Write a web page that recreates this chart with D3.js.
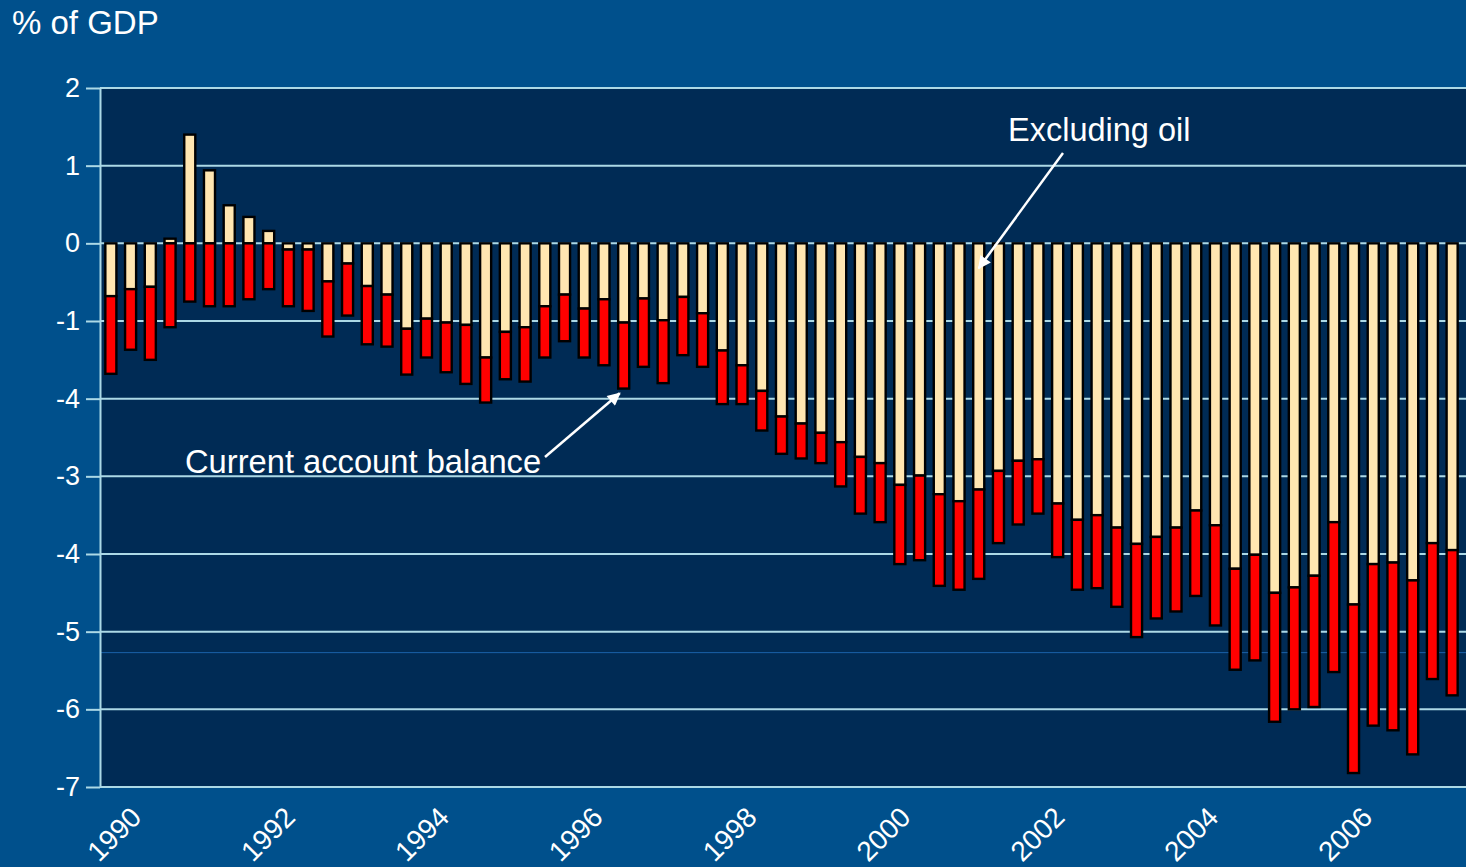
<!DOCTYPE html>
<html>
<head>
<meta charset="utf-8">
<script src="https://cdn.jsdelivr.net/npm/d3@7"></script>
<style>
    html, body { margin: 0; padding: 0; background: #00508c; }
    svg { display: block; }
    text { font-family: "Liberation Sans", Arial, sans-serif; fill: #fff; }
</style>
</head>
<body>
<svg id="chart" width="1466" height="867"></svg>
<script>
// quarterly, 1990Q1 - 2007Q1
const years = d3.range(1990, 2008)
const quarters = years.flatMap(y => [1, 2, 3, 4].map(q => `${y}Q${q}`)).slice(0, 69)

// cream part: balance excluding oil (% of GDP)
const excludingOil = [
    -0.68, -0.59, -0.56, 0.06, 1.40, 0.94, 0.49, 0.34, 0.16, -0.08, -0.08, -0.49,
    -0.26, -0.55, -0.66, -1.10, -0.97, -1.02, -1.05, -1.47, -1.14, -1.08, -0.81, -0.66,
    -0.84, -0.72, -1.02, -0.71, -0.99, -0.69, -0.90, -1.38, -1.57, -1.90, -2.23, -2.32,
    -2.44, -2.56, -2.75, -2.83, -3.11, -2.99, -3.23, -3.32, -3.17, -2.93, -2.80, -2.78,
    -3.35, -3.56, -3.50, -3.66, -3.87, -3.78, -3.66, -3.44, -3.63, -4.19, -4.01, -4.50,
    -4.43, -4.28, -3.59, -4.65, -4.13, -4.11, -4.34, -3.86, -3.95
]

// red part: oil balance, stacked below -> bottom is the current account balance
const oilBalance = [
    -1.00, -0.78, -0.94, -1.08, -0.75, -0.81, -0.81, -0.72, -0.59, -0.73, -0.79, -0.71,
    -0.67, -0.75, -0.67, -0.59, -0.50, -0.64, -0.76, -0.58, -0.61, -0.70, -0.66, -0.60,
    -0.63, -0.85, -0.85, -0.88, -0.81, -0.75, -0.69, -0.69, -0.50, -0.51, -0.48, -0.45,
    -0.39, -0.57, -0.73, -0.76, -1.02, -1.09, -1.18, -1.14, -1.15, -0.93, -0.82, -0.70,
    -0.69, -0.90, -0.94, -1.02, -1.20, -1.05, -1.08, -1.10, -1.29, -1.30, -1.36, -1.66,
    -1.57, -1.69, -1.93, -2.17, -2.08, -2.16, -2.24, -1.75, -1.87
]

const yTicks = [2, 1, 0, -1, -2, -3, -4, -5, -6, -7]
const yTickLabels = ['2', '1', '0', '-1', '-4', '-3', '-4', '-5', '-6', '-7']
const xLabelYears = [1990, 1992, 1994, 1996, 1998, 2000, 2002, 2004, 2006]

const width = 1466, height = 867
const plot = { left: 100, right: 1466, top: 88, bottom: 787 }

const colors = {
    plotBg: '#002b55',
    grid: '#acd9e6',
    cream: '#ffe6b1',
    red: '#ff0000',
    stray: '#1a62aa'
}

const svg = d3.select('#chart')

svg.append('rect')
    .attr('width', width).attr('height', height)
    .attr('fill', '#00508c')

svg.append('rect')
    .attr('x', plot.left).attr('y', plot.top)
    .attr('width', plot.right - plot.left).attr('height', plot.bottom - plot.top)
    .attr('fill', colors.plotBg)

const x = d3.scaleBand()
    .domain(quarters)
    .range([101, 1462])
    .paddingInner(0.44)
    .paddingOuter(0.22)

const y = d3.scaleLinear()
    .domain([-7, 2])
    .range([plot.bottom, plot.top])

// year labels sit on their own spacing in the original slide
const xLabel = d3.scaleLinear()
    .domain([1990, 2006])
    .range([114, 1345])

// gridlines
svg.append('g').attr('class', 'grid')
    .selectAll('line')
    .data(yTicks)
    .join('line')
    .attr('x1', plot.left).attr('x2', plot.right)
    .attr('y1', d => y(d)).attr('y2', d => y(d))
    .attr('stroke', colors.grid)
    .attr('stroke-width', 2)

// faint stray line from the source slide
svg.append('line')
    .attr('x1', plot.left).attr('x2', plot.right)
    .attr('y1', y(-5.27)).attr('y2', y(-5.27))
    .attr('stroke', colors.stray)
    .attr('stroke-width', 1)

// stacked bars
const table = quarters.map((q, i) => ({ quarter: q, exOil: excludingOil[i], oil: oilBalance[i] }))

const series = d3.stack()
    .keys(['exOil', 'oil'])
    .offset(d3.stackOffsetDiverging)(table)

const fill = { exOil: colors.cream, oil: colors.red }

svg.append('g').attr('class', 'bars')
    .selectAll('g')
    .data(series)
    .join('g')
    .attr('fill', d => fill[d.key])
    .selectAll('rect')
    .data(d => d)
    .join('rect')
    .attr('x', d => x(d.data.quarter))
    .attr('width', x.bandwidth())
    .attr('y', d => y(d[1]))
    .attr('height', d => y(d[0]) - y(d[1]))
    .attr('stroke', '#000')
    .attr('stroke-width', 2.4)

// y axis
const yAxis = svg.append('g')
    .attr('transform', `translate(${plot.left},0)`)
    .call(d3.axisLeft(y)
        .tickValues(yTicks)
        .tickFormat((d, i) => yTickLabels[i])
        .tickSize(14)
        .tickSizeOuter(0)
        .tickPadding(6))

yAxis.selectAll('path, line')
    .attr('stroke', colors.grid)
    .attr('stroke-width', 2)
yAxis.selectAll('text')
    .attr('fill', '#fff')
    .style('font-size', '27px')
    .style('font-family', '"Liberation Sans", Arial, sans-serif')

// x labels
svg.append('g').attr('class', 'xLabels')
    .selectAll('text')
    .data(xLabelYears)
    .join('text')
    .attr('transform', d => `translate(${xLabel(d)},834) rotate(-45)`)
    .attr('text-anchor', 'middle')
    .attr('dy', '0.35em')
    .style('font-size', '28px')
    .text(d => d)

// title
svg.append('text')
    .attr('x', 12).attr('y', 34)
    .style('font-size', '33px')
    .text('% of GDP')

// annotations
svg.append('defs').append('marker')
    .attr('id', 'arrow')
    .attr('viewBox', '0 0 10 10')
    .attr('refX', 9).attr('refY', 5)
    .attr('markerWidth', 16).attr('markerHeight', 13)
    .attr('markerUnits', 'userSpaceOnUse')
    .attr('orient', 'auto')
    .append('path')
    .attr('d', 'M0,0 L10,5 L0,10 Z')
    .attr('fill', '#fff')

const barCenter = q => x(q) + x.bandwidth() / 2

svg.append('text')
    .attr('x', 1008).attr('y', 141)
    .style('font-size', '32.5px')
    .text('Excluding oil')

svg.append('line')
    .attr('x1', 1063).attr('y1', 153)
    .attr('x2', barCenter(quarters[44])).attr('y2', y(-0.32))
    .attr('stroke', '#fff')
    .attr('stroke-width', 2.5)
    .attr('marker-end', 'url(#arrow)')

svg.append('text')
    .attr('x', 185).attr('y', 473)
    .style('font-size', '32.7px')
    .text('Current account balance')

svg.append('line')
    .attr('x1', 545).attr('y1', 457)
    .attr('x2', barCenter(quarters[26]) - 4).attr('y2', y(-1.93))
    .attr('stroke', '#fff')
    .attr('stroke-width', 2.5)
    .attr('marker-end', 'url(#arrow)')
</script>
</body>
</html>
